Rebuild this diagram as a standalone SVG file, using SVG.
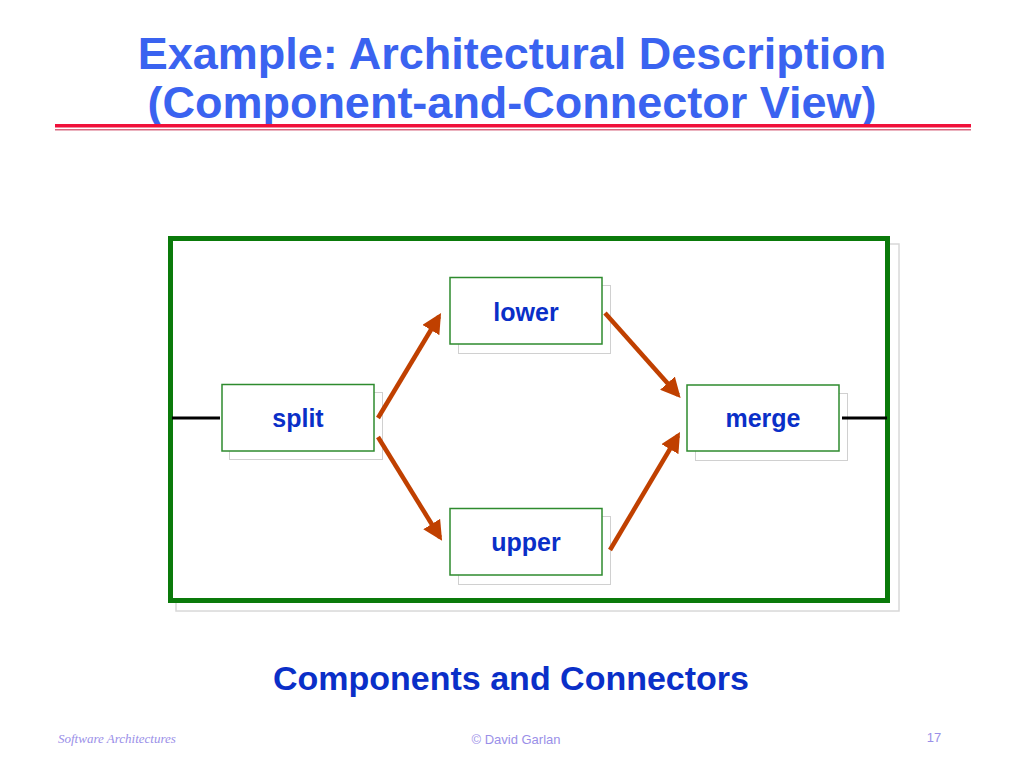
<svg xmlns="http://www.w3.org/2000/svg" width="1024" height="768" viewBox="0 0 1024 768">
<defs>
<style>
.title{font-family:"Liberation Sans",Arial,sans-serif;font-weight:bold;font-size:45px;fill:#3a63f0;text-anchor:middle}
.sub{font-family:"Liberation Sans",Arial,sans-serif;font-weight:bold;font-size:34px;fill:#0a2fc8;text-anchor:middle}
.lbl{font-family:"Liberation Sans",Arial,sans-serif;font-weight:bold;font-size:25px;fill:#0a2fc8;text-anchor:middle}
.box{fill:#fff;stroke:#2e8b2e;stroke-width:1.5}
.shadow{fill:#fff;stroke:#d0d0d0;stroke-width:1}
.arrow{stroke:#c04000;stroke-width:4.5;fill:none;marker-end:url(#ah)}
.port{stroke:#000;stroke-width:3}
.foot{font-family:"Liberation Sans",Arial,sans-serif;font-size:13px;fill:#9a8fe8}
</style>
<marker id="ah" viewBox="0 0 10 10" refX="8" refY="5" markerWidth="4.4" markerHeight="4.4" orient="auto" markerUnits="strokeWidth">
<path d="M0,0 L10,5 L0,10 z" fill="#c04000"/>
</marker>
</defs>
<rect width="1024" height="768" fill="#fff"/>
<text class="title" x="512" y="69">Example: Architectural Description</text>
<text class="title" x="512" y="118">(Component-and-Connector View)</text>
<rect x="55" y="124" width="916" height="3.5" fill="#f0103a"/>
<rect x="55" y="129" width="916" height="1.5" fill="#d86880"/>
<g id="system">
<rect x="176" y="244" width="723" height="367" fill="#fff" stroke="#d8d8d8" stroke-width="1.5"/>
<rect x="170.5" y="238.5" width="717" height="362" fill="#fff" stroke="#0a7a0a" stroke-width="5"/>
</g>
<g id="split">
<rect class="shadow" x="229.5" y="392.5" width="153" height="67"/>
<rect class="box" x="222" y="384.5" width="152" height="66.5"/>
<text class="lbl" x="298" y="427">split</text>
</g>
<g id="lower">
<rect class="shadow" x="458.5" y="285.5" width="152" height="68"/>
<rect class="box" x="450" y="277.5" width="152" height="66.5"/>
<text class="lbl" x="526" y="321">lower</text>
</g>
<g id="upper">
<rect class="shadow" x="458.5" y="516.5" width="152" height="68"/>
<rect class="box" x="450" y="508.5" width="152" height="66.5"/>
<text class="lbl" x="526" y="551">upper</text>
</g>
<g id="merge">
<rect class="shadow" x="695.5" y="393.5" width="152" height="67"/>
<rect class="box" x="687" y="385" width="152" height="66"/>
<text class="lbl" x="763" y="427">merge</text>
</g>
<g id="connectors">
<line class="port" x1="172" y1="418" x2="220" y2="418"/>
<line class="port" x1="842" y1="418" x2="887" y2="418"/>
<line class="arrow" x1="378" y1="418" x2="439" y2="316.5"/>
<line class="arrow" x1="378" y1="437" x2="440" y2="537.5"/>
<line class="arrow" x1="605" y1="313" x2="678" y2="395"/>
<line class="arrow" x1="610" y1="550" x2="678" y2="435.5"/>
</g>
<text class="sub" x="511" y="690">Components and Connectors</text>
<text x="58" y="743" style="font-family:'Liberation Serif',serif;font-style:italic;font-size:13px;fill:#9a8fe8">Software Architectures</text>
<text class="foot" x="516" y="744" text-anchor="middle">© David Garlan</text>
<text class="foot" x="934" y="742" text-anchor="middle">17</text>
</svg>
